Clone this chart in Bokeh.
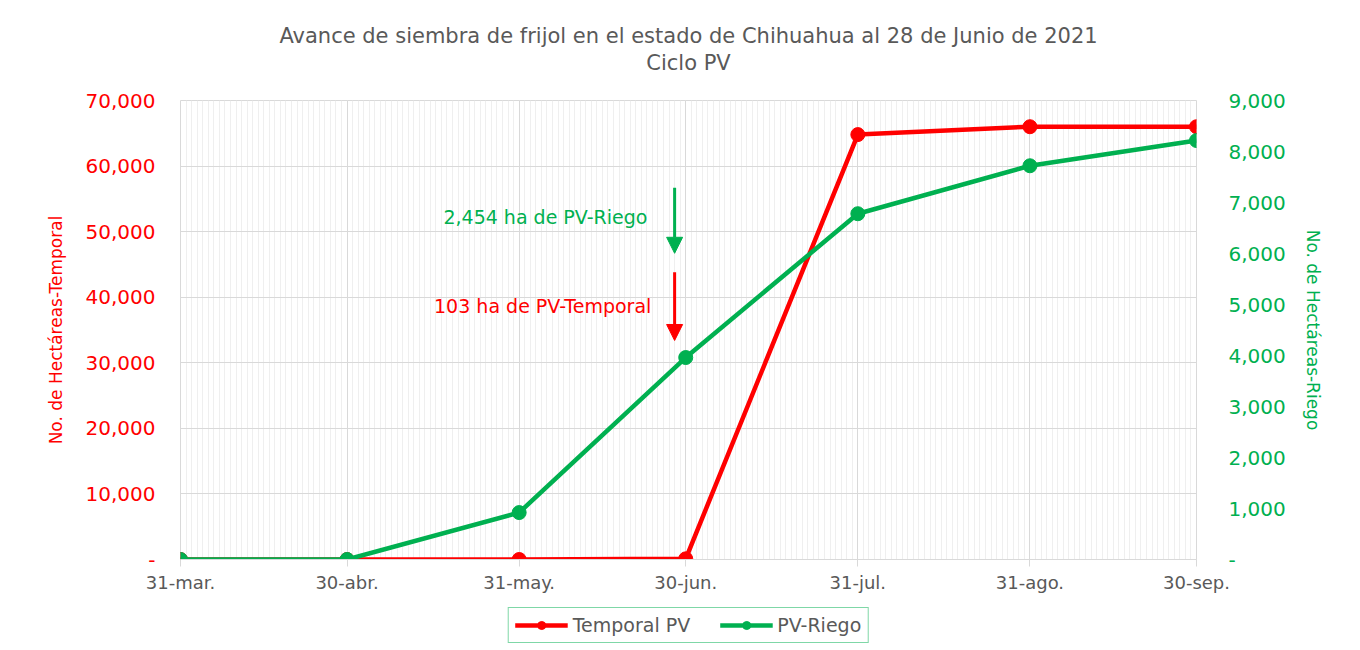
import pandas as pd
from bokeh.plotting import figure
from bokeh.layouts import column
from bokeh.models import (Range1d, LinearAxis, FixedTicker, NumeralTickFormatter,
                          Legend, LegendItem, Title, Arrow, NormalHead, Label)
from bokeh.embed import file_html
from bokeh.resources import INLINE

# ---------------- data ----------------
dates = ["2021-03-31", "2021-04-30", "2021-05-31", "2021-06-30",
         "2021-07-31", "2021-08-31", "2021-09-30"]
tick_labels = ["31-mar.", "30-abr.", "31-may.", "30-jun.", "31-jul.", "31-ago.", "30-sep."]
temporal = [0, 0, 0, 103, 64800, 66000, 66000]
riego = [0, 0, 920, 3960, 6780, 7720, 8215]
annot_date = "2021-06-28"
series_names = ["Temporal PV", "PV-Riego"]

RED = "#FF0000"
GREEN = "#00B050"
GRAY = "#595959"
FONT = "DejaVu Sans"

start = pd.Timestamp(dates[0])
xd = [(pd.Timestamp(d) - start).days for d in dates]
xa = (pd.Timestamp(annot_date) - start).days

p = figure(frame_width=1016, frame_height=459, output_backend="svg", toolbar_location=None,
           x_range=Range1d(xd[0], xd[-1]), y_range=Range1d(0, 70000),
           min_border_left=180, min_border_right=156, min_border_top=100,
           min_border_bottom=41, background_fill_color="white",
           border_fill_color="white")
p.extra_y_ranges = {"riego": Range1d(0, 9000)}
p.outline_line_color = "#d9d9d9"

bax = p.below[0]   # bottom (date) axis
lax = p.left[0]    # left axis

# second title line as the label of an empty top axis (centred over the plot)
tax = LinearAxis(ticker=FixedTicker(ticks=[]), axis_label="Ciclo PV")
tax.axis_line_color = None
tax.major_tick_line_color = None
tax.minor_tick_line_color = None
tax.major_tick_out = 0
tax.major_tick_in = 0
tax.minor_tick_out = 0
tax.major_label_standoff = 0
tax.major_label_text_font_size = "0px"
tax.axis_label_standoff = 26
tax.axis_label_text_font = FONT
tax.axis_label_text_font_size = "21px"
tax.axis_label_text_font_style = "normal"
tax.axis_label_text_color = GRAY
p.add_layout(tax, "above")
p.add_layout(Title(text="Avance de siembra de frijol en el estado de Chihuahua al 28 de Junio de 2021",
                   align="center", text_font=FONT, text_font_size="21px",
                   text_color=GRAY, text_font_style="normal", standoff=0), "above")

# x axis
bax.ticker = FixedTicker(ticks=xd, minor_ticks=list(range(xd[0], xd[-1] + 1)))
bax.major_label_overrides = {x: l for x, l in zip(xd, tick_labels)}
bax.major_label_text_font = FONT
bax.major_label_text_font_size = "18px"
bax.major_label_text_color = GRAY
bax.axis_line_color = "#d9d9d9"
bax.major_tick_line_color = "#d9d9d9"
bax.major_tick_out = 7
bax.major_tick_in = 0
bax.minor_tick_line_color = None
bax.major_label_standoff = 5

# left axis
lax.ticker = FixedTicker(ticks=list(range(0, 70001, 10000)))
lax.formatter = NumeralTickFormatter(format="0,0")
lax.major_label_overrides = {0: "-"}
lax.major_label_text_color = RED
lax.major_label_text_font = FONT
lax.major_label_text_font_size = "20px"
lax.axis_line_color = None
lax.major_tick_line_color = None
lax.minor_tick_line_color = None
lax.major_label_standoff = 19
lax.axis_label = "No. de Hectáreas-Temporal"
lax.axis_label_text_color = RED
lax.axis_label_text_font = FONT
lax.axis_label_text_font_size = "17px"
lax.axis_label_text_font_style = "normal"
lax.axis_label_standoff = 17

# right axis
rax = LinearAxis(y_range_name="riego", ticker=FixedTicker(ticks=list(range(0, 9001, 1000))),
                 formatter=NumeralTickFormatter(format="0,0"))
rax.major_label_overrides = {0: "-"}
rax.major_label_text_color = GREEN
rax.major_label_text_font = FONT
rax.major_label_text_font_size = "20px"
rax.axis_line_color = None
rax.major_tick_line_color = None
rax.minor_tick_line_color = None
rax.major_label_standoff = 26
rax.axis_label = "No. de Hectáreas-Riego"
rax.axis_label_text_color = GREEN
rax.axis_label_text_font = FONT
rax.axis_label_text_font_size = "17px"
rax.axis_label_text_font_style = "normal"
rax.axis_label_standoff = 14
p.add_layout(rax, "right")

# grids
p.xgrid.grid_line_color = "#d9d9d9"
p.xgrid.minor_grid_line_color = "#efefef"
p.ygrid.grid_line_color = "#d9d9d9"

# lines
p.line(xd, temporal, line_color=RED, line_width=4.5)
p.scatter(xd, temporal, size=14, fill_color=RED, line_color=RED)
p.line(xd, riego, line_color=GREEN, line_width=4.5, y_range_name="riego")
p.scatter(xd, riego, size=14, fill_color=GREEN, line_color=GREEN, y_range_name="riego")

# annotations
p.add_layout(Arrow(end=NormalHead(size=16, fill_color=GREEN, line_color=GREEN),
                   x_start=xa, y_start=56700, x_end=xa, y_end=46700,
                   line_color=GREEN, line_width=3))
p.add_layout(Arrow(end=NormalHead(size=16, fill_color=RED, line_color=RED),
                   x_start=xa, y_start=43800, x_end=xa, y_end=33400,
                   line_color=RED, line_width=3))
p.add_layout(Label(x=84.1, y=52300, text="2,454 ha de PV-Riego", text_align="right",
                   text_baseline="middle", text_color=GREEN, text_font=FONT,
                   text_font_size="19px"))
p.add_layout(Label(x=84.8, y=38600, text="103 ha de PV-Temporal", text_align="right",
                   text_baseline="middle", text_color=RED, text_font=FONT,
                   text_font_size="19px"))

# legend strip below the chart (its proxy series lie outside its view range)
lf = figure(frame_width=1016, frame_height=50, output_backend="svg", toolbar_location=None,
            x_range=Range1d(xd[0], xd[-1]), y_range=Range1d(-3, -2),
            x_axis_location=None, y_axis_location=None,
            min_border_left=180, min_border_right=156, min_border_top=0, min_border_bottom=0,
            background_fill_color="white", border_fill_color="white")
lf.grid.visible = False
lf.outline_line_color = None
l1 = lf.line(xd, temporal, line_color=RED, line_width=4.5)
c1 = lf.scatter(xd, temporal, size=12, fill_color=RED, line_color=RED)
l2 = lf.line(xd, riego, line_color=GREEN, line_width=4.5)
c2 = lf.scatter(xd, riego, size=12, fill_color=GREEN, line_color=GREEN)
legend = Legend(items=[LegendItem(label=series_names[0], renderers=[l1, c1]),
                       LegendItem(label=series_names[1], renderers=[l2, c2])],
                orientation="horizontal", location="center",
                label_text_font=FONT, label_text_font_size="19px", label_text_color=GRAY,
                border_line_color=GREEN, border_line_width=1.5, glyph_width=53,
                spacing=29, padding=6, margin=0, label_standoff=5)
lf.add_layout(legend, "center")

root = column(p, lf, spacing=0)
open("out.html", "w").write(file_html(root, INLINE))
